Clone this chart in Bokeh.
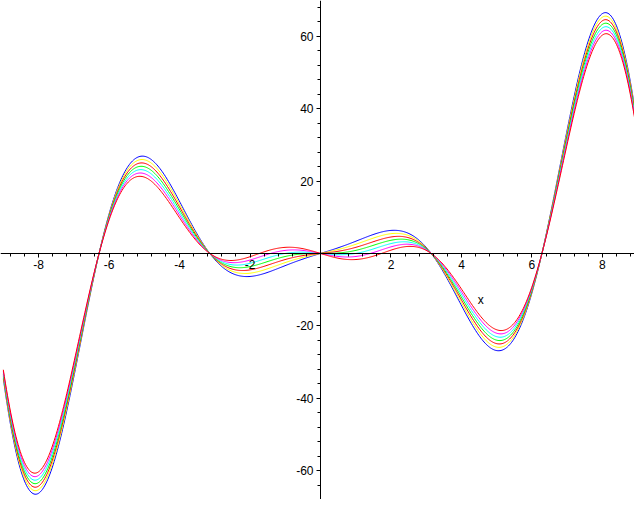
import numpy as np
from bokeh.plotting import figure
from bokeh.models import FixedTicker, Range1d
from bokeh.embed import file_html
from bokeh.resources import INLINE
from bokeh.core.properties import value

# Family of curves y = (x^2 + c) * sin(x), one per offset c
offsets = [3, 2, 1, 0, -1, -2, -3]
colors = ["#0000FF", "#FFFF00", "#FF0000", "#00FF00", "#00FFFF", "#FF00FF", "#FF0000"]
x_domain = [-9.0, 9.0]
n_samples = 600

x_tick_values = [-8, -6, -4, -2, 2, 4, 6, 8]
x_tick_labels = ["-8", "-6", "-4", "-2", "2", "4", "6", "8"]
y_tick_values = [-60, -40, -20, 20, 40, 60]
y_tick_labels = ["-60", "-40", "-20", "20", "40", "60"]
x_minor_step = 0.4
y_minor_step = 4
axis_name = "x"

p = figure(width=634, height=499, output_backend="svg", toolbar_location=None,
           x_range=Range1d(-9.08, 8.91), y_range=Range1d(-68.0, 69.9),
           min_border=0, outline_line_color=None, background_fill_color="white",
           border_fill_color="white")
p.grid.visible = False

xs = np.linspace(x_domain[0], x_domain[1], n_samples)
for c, col in zip(offsets, colors):
    p.line(xs, (xs ** 2 + c) * np.sin(xs), line_color=col, line_width=1)

x_minor = [round(v, 2) for v in np.arange(-8.8, 8.81, x_minor_step)]
y_minor = [int(v) for v in np.arange(-68, 69, y_minor_step)]

for ax in (p.xaxis[0], p.yaxis[0]):
    ax.fixed_location = 0
    ax.axis_line_color = "black"
    ax.major_tick_line_color = "black"
    ax.minor_tick_line_color = "black"
    ax.major_tick_in = 0
    ax.minor_tick_in = 0
    ax.major_tick_out = 4
    ax.minor_tick_out = 3
    ax.major_label_text_font = "Liberation Sans"
    ax.major_label_text_font_size = "12px"
    ax.major_label_text_color = "black"
    ax.major_label_standoff = 3

p.xaxis[0].ticker = FixedTicker(ticks=x_tick_values, minor_ticks=x_minor)
p.xaxis[0].major_label_overrides = {v: s for v, s in zip(x_tick_values, x_tick_labels)}
p.yaxis[0].ticker = FixedTicker(ticks=y_tick_values, minor_ticks=y_minor)
p.yaxis[0].major_label_overrides = {v: s for v, s in zip(y_tick_values, y_tick_labels)}

p.text(x=[4.55], y=[-13], text=[axis_name], text_font=value("Liberation Sans"),
       text_font_size="12px", text_color="black", text_align="center",
       text_baseline="middle")

open("out.html", "w").write(file_html(p, INLINE))
